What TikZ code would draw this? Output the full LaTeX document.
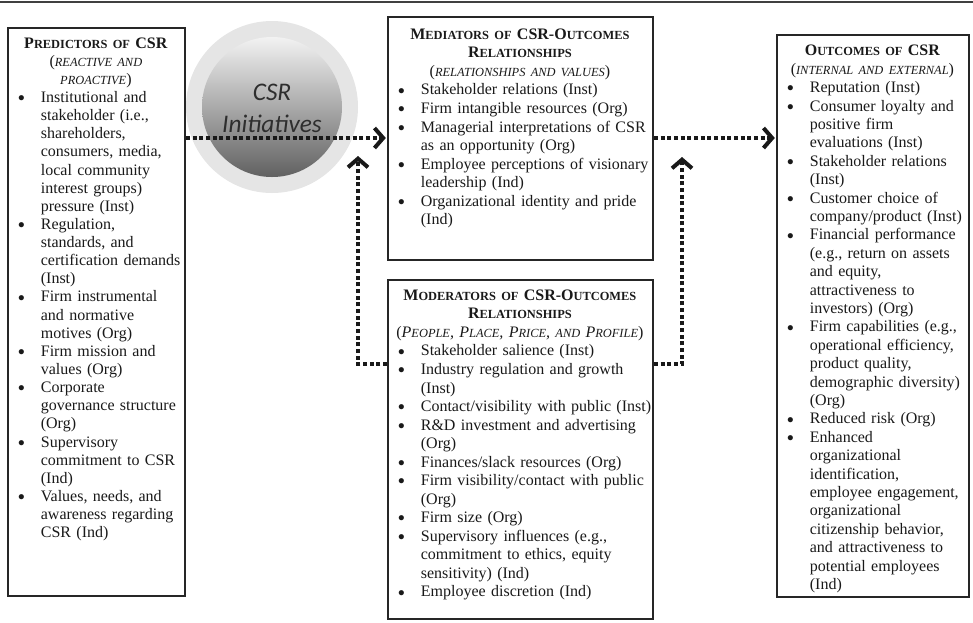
\documentclass[tikz,border=0pt]{standalone}
\usepackage{fontspec}
\setmainfont{Liberation Serif}
\newfontfamily\calib{Carlito}
\usetikzlibrary{arrows.meta}

\newcommand\sm[1]{{\fontsize{9.3}{13.7}\selectfont #1}}
\newlength\bulind \setlength\bulind{8pt}
\newlength\itind \setlength\itind{25.1pt}
\newcommand\mybul{\raisebox{0.6pt}{\fontsize{10}{12}\selectfont$\bullet$}}
\newcommand\itm{\par\noindent\hangindent=\itind\hangafter=1\makebox[\itind][l]{\hspace{\bulind}\mybul}\ignorespaces}
\newcommand\nl{\newline}
\newcommand\setuppar{\parindent=0pt\parskip=0pt\hyphenpenalty=10000\exhyphenpenalty=10000}
\newcommand\itemmode{\par\leftskip=0pt\rightskip=-15pt plus 1fil\parfillskip=0pt plus 1fil}

\tikzset{
  boxsty/.style={draw=black!85, line width=1.3pt, inner sep=0pt, rectangle},
  txtsty/.style={anchor=north west, inner sep=0pt, text=black!90},
  dotarrow/.style={line width=3pt, dash pattern=on 3.2pt off 1.8pt, draw=black!90,
     -{Straight Barb[length=6.5pt,width=15pt,line width=3pt]}},
}

\begin{document}
\begin{tikzpicture}[x=0.75pt,y=-0.75pt]
\useasboundingbox (0,0) rectangle (973,622);
\draw[line width=0.9pt, black!75] (0,2) -- (973,2);

% boxes
\node[boxsty, minimum width=132.75pt, minimum height=426pt] (pred) at (96.5,312) {};
\node[boxsty, minimum width=198.75pt, minimum height=182.25pt] (med) at (520.5,138.5) {};
\node[boxsty, minimum width=198.75pt, minimum height=254.25pt] (mod) at (520.5,449.5) {};
\node[boxsty, minimum width=144pt, minimum height=421.5pt] (out) at (873,316) {};

% circle
\node[circle, fill=black!10, minimum size=129pt, inner sep=0pt] (outer) at (272,107) {};
\node[circle, minimum size=105pt, inner sep=0pt, top color=black!5, bottom color=black!62] (inner) at (272,107) {};
\node[font=\calib\itshape\fontsize{19}{24}\selectfont, text=black!82, align=center, inner sep=0pt] (csrT) at (272,108) {CSR\\Initiatives};

% texts
\node[txtsty, text width=132.75pt, font=\fontsize{12}{13.6}\selectfont] (predT) at ([yshift=-6pt]pred.north west) {\setuppar\centering
\strut\textbf{P\sm{REDICTORS OF} CSR}\\
(\textit{\sm{REACTIVE AND}}\\
\textit{\sm{PROACTIVE}})
\itemmode
\itm Institutional and\nl stakeholder (i.e.,\nl shareholders,\nl consumers, media,\nl local community\nl interest groups)\nl pressure (Inst)
\itm Regulation,\nl standards, and\nl certification demands\nl (Inst)
\itm Firm instrumental\nl and normative\nl motives (Org)
\itm Firm mission and\nl values (Org)
\itm Corporate\nl governance structure\nl (Org)
\itm Supervisory\nl commitment to CSR\nl (Ind)
\itm Values, needs, and\nl awareness regarding\nl CSR (Ind)\par};

\node[txtsty, text width=198.75pt, font=\fontsize{12}{13.9}\selectfont] (medT) at ([yshift=-7.5pt]med.north west) {\setuppar\centering
\strut\textbf{M\sm{EDIATORS OF} CSR-O\sm{UTCOMES}}\\
\textbf{R\sm{ELATIONSHIPS}}\\
(\textit{\sm{RELATIONSHIPS AND VALUES}})
\itemmode
\itm Stakeholder relations (Inst)
\itm Firm intangible resources (Org)
\itm Managerial interpretations of CSR\nl as an opportunity (Org)
\itm Employee perceptions of visionary\nl leadership (Ind)
\itm Organizational identity and pride\nl (Ind)\par};

\node[txtsty, text width=198.75pt, font=\fontsize{12}{13.9}\selectfont] (modT) at ([yshift=-6pt]mod.north west) {\setuppar\centering
\strut\textbf{M\sm{ODERATORS OF} CSR-O\sm{UTCOMES}}\\
\textbf{R\sm{ELATIONSHIPS}}\\
(\textit{P\sm{EOPLE}, P\sm{LACE}, P\sm{RICE}, \sm{AND} P\sm{ROFILE}})
\itemmode
\itm Stakeholder salience (Inst)
\itm Industry regulation and growth\nl (Inst)
\itm Contact/visibility with public (Inst)
\itm R\&D investment and advertising\nl (Org)
\itm Finances/slack resources (Org)
\itm Firm visibility/contact with public\nl (Org)
\itm Firm size (Org)
\itm Supervisory influences (e.g.,\nl commitment to ethics, equity\nl sensitivity) (Ind)
\itm Employee discretion (Ind)\par};

\node[txtsty, text width=144pt, font=\fontsize{12}{13.8}\selectfont] (outT) at ([yshift=-6.5pt]out.north west) {\setuppar\centering
\strut\textbf{O\sm{UTCOMES OF} CSR}\\
(\textit{\sm{INTERNAL AND EXTERNAL}})
\itemmode
\itm Reputation (Inst)
\itm Consumer loyalty and\nl positive firm\nl evaluations (Inst)
\itm Stakeholder relations\nl (Inst)
\itm Customer choice of\nl company/product (Inst)
\itm Financial performance\nl (e.g., return on assets\nl and equity,\nl attractiveness to\nl investors) (Org)
\itm Firm capabilities (e.g.,\nl operational efficiency,\nl product quality,\nl demographic diversity)\nl (Org)
\itm Reduced risk (Org)
\itm Enhanced\nl organizational\nl identification,\nl employee engagement,\nl organizational\nl citizenship behavior,\nl and attractiveness to\nl potential employees\nl (Ind)\par};

% connectors
\coordinate (yl) at (0,138);
\coordinate (ym) at (0,364);
\coordinate (t1) at (358,156);
\coordinate (t2) at (682,157);
\draw[dotarrow] (pred.east |- yl) -- ([xshift=-1pt]med.west |- yl);
\draw[dotarrow] (med.east |- yl) -- ([xshift=-1pt]out.west |- yl);
\draw[dotarrow] (mod.west |- ym) -| (t1);
\draw[dotarrow] (mod.east |- ym) -| (t2);
\end{tikzpicture}
\end{document}
